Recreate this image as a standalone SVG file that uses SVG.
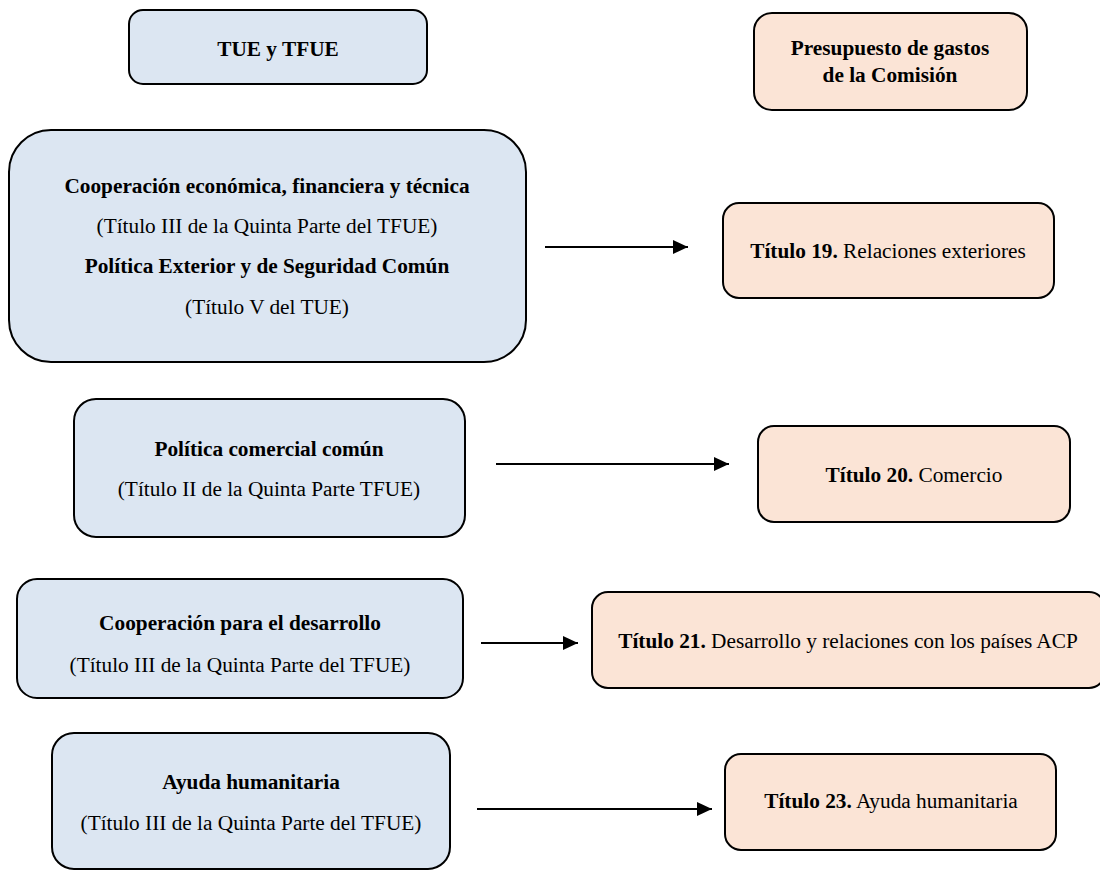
<svg xmlns="http://www.w3.org/2000/svg" width="1100" height="870" viewBox="0 0 1100 870">
<defs>
<style>
.b{fill:#dce6f2;stroke:#000;stroke-width:2}
.p{fill:#fbe4d6;stroke:#000;stroke-width:2}
text{font-family:"Liberation Serif","Times New Roman",serif;font-size:21.3px;fill:#000;text-anchor:middle}
.bd{font-weight:bold}
.c{stroke:#000;stroke-width:2.2;fill:none;marker-end:url(#ah)}
</style>
<marker id="ah" markerWidth="15" markerHeight="14" refX="15" refY="7" orient="auto" markerUnits="userSpaceOnUse" viewBox="0 0 15 14">
<path d="M0,0 L15,7 L0,14 z" fill="#000"/>
</marker>
</defs>
<rect width="1100" height="870" fill="#fff"/>
<g id="n-tue">
<rect class="b" x="129" y="10" width="298" height="74" rx="14"/>
<text class="bd" x="278" y="56">TUE y TFUE</text>
</g>
<g id="n-presupuesto">
<rect class="p" x="754" y="13" width="273" height="97" rx="18"/>
<text class="bd" x="890" y="55">Presupuesto de gastos</text>
<text class="bd" x="890" y="82">de la Comisión</text>
</g>
<g id="n-coop">
<rect class="b" x="9" y="130" width="517" height="232" rx="42"/>
<text class="bd" x="267" y="193">Cooperación económica, financiera y técnica</text>
<text x="267" y="233">(Título III de la Quinta Parte del TFUE)</text>
<text class="bd" x="267" y="273">Política Exterior y de Seguridad Común</text>
<text x="267" y="314">(Título V del TUE)</text>
</g>
<g id="n-t19">
<rect class="p" x="723" y="203" width="331" height="95" rx="16"/>
<text x="888" y="258"><tspan class="bd">Título 19.</tspan> Relaciones exteriores</text>
</g>
<g id="n-comercial">
<rect class="b" x="74" y="399" width="391" height="138" rx="22"/>
<text class="bd" x="269" y="456">Política comercial común</text>
<text x="269" y="496">(Título II de la Quinta Parte TFUE)</text>
</g>
<g id="n-t20">
<rect class="p" x="758" y="426" width="312" height="96" rx="16"/>
<text x="914" y="482"><tspan class="bd">Título 20.</tspan> Comercio</text>
</g>
<g id="n-desarrollo">
<rect class="b" x="17" y="579" width="446" height="119" rx="20"/>
<text class="bd" x="240" y="630">Cooperación para el desarrollo</text>
<text x="240" y="672">(Título III de la Quinta Parte del TFUE)</text>
</g>
<g id="n-t21">
<rect class="p" x="592" y="592" width="513" height="96" rx="16"/>
<text x="848" y="648"><tspan class="bd">Título 21.</tspan> Desarrollo y relaciones con los países ACP</text>
</g>
<g id="n-ayuda">
<rect class="b" x="52" y="733" width="398" height="136" rx="22"/>
<text class="bd" x="251" y="789">Ayuda humanitaria</text>
<text x="251" y="830">(Título III de la Quinta Parte del TFUE)</text>
</g>
<g id="n-t23">
<rect class="p" x="725" y="754" width="331" height="96" rx="16"/>
<text x="891" y="808"><tspan class="bd">Título 23.</tspan> Ayuda humanitaria</text>
</g>
<g id="connectors">
<line class="c" x1="545" y1="247" x2="688" y2="247"/>
<line class="c" x1="496" y1="464" x2="729" y2="464"/>
<line class="c" x1="481" y1="643" x2="578" y2="643"/>
<line class="c" x1="477" y1="809" x2="712" y2="809"/>
</g>
</svg>
